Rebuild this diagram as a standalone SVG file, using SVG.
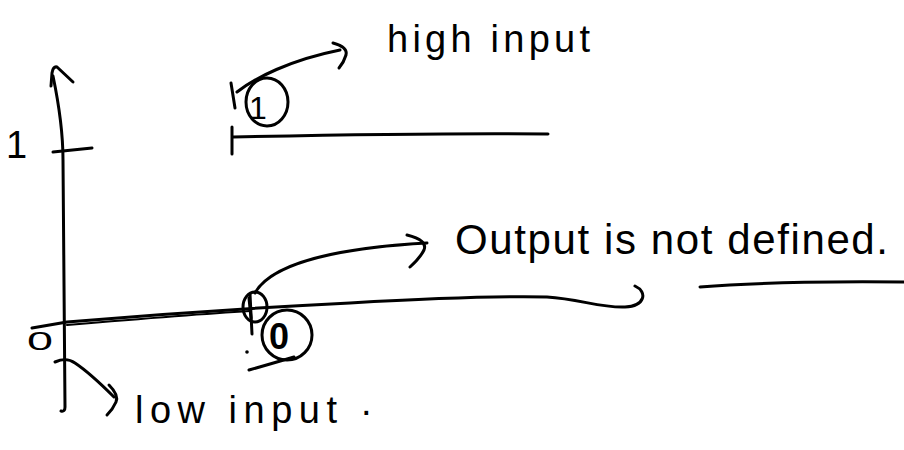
<svg xmlns="http://www.w3.org/2000/svg" width="904" height="450" viewBox="0 0 904 450">
<style>
.ink{fill:none;stroke:#000;stroke-width:3;stroke-linecap:round;stroke-linejoin:round}
.thin{fill:none;stroke:#000;stroke-width:2.2;stroke-linecap:round;stroke-linejoin:round}
.hand{font-family:"Liberation Sans","DejaVu Sans",sans-serif;fill:#000}
</style>
<rect width="904" height="450" fill="#fff"/>
<g id="y-axis">
<path class="ink" d="M51,86 L52,73 Q53,66 57,67 L73,82"/>
<path class="ink" d="M53,76 C58,100 63,130 63,160 L65,407 Q65,412 61,411"/>
<path class="ink" d="M53,152 L92,148"/>
<text class="hand" x="6" y="158" font-size="38">1</text>
</g>
<g id="level-high">
<path class="ink" d="M231,83 L235,108"/>
<path class="ink" d="M232,127 L232,154"/>
<path class="ink" d="M233,137 C330,135 450,133 548,134"/>
</g>
<g id="point-1">
<ellipse class="ink" cx="267" cy="102" rx="21" ry="24"/>
<text class="hand" x="258" y="119" font-size="32" text-anchor="middle">1</text>
</g>
<g id="level-low">
<path class="ink" d="M32,328 L67,322 C150,315 250,308 350,303 C420,299 500,296 547,297 C580,299 600,308 625,307 C645,306 648,292 635,286"/>
<path class="thin" d="M67,325 C150,318 200,314 250,311"/>
<text class="hand" x="27" y="350" font-size="26" textLength="26" lengthAdjust="spacingAndGlyphs">0</text>
</g>
<g id="point-undefined">
<ellipse class="ink" cx="255" cy="307" rx="12" ry="15"/>
<path class="ink" d="M250,294 L252,334" stroke-width="4"/>
<path class="ink" d="M249,298 L251,318" stroke-width="6"/>
<circle cx="247" cy="352" r="1.8" fill="#000"/>
</g>
<g id="point-0">
<ellipse class="ink" cx="287" cy="335" rx="25" ry="25"/>
<text class="hand" x="279" y="349" font-size="36" font-weight="bold" text-anchor="middle">0</text>
<path class="ink" d="M249,370 L270,364 L294,357" stroke-width="3.5"/>
</g>
<g id="label-high-input">
<text class="hand" x="387" y="52" font-size="38" textLength="203" lengthAdjust="spacing">high input</text>
</g>
<g id="label-output">
<text class="hand" x="455" y="254" font-size="42" textLength="433" lengthAdjust="spacing">Output is not defined.</text>
<path class="ink" d="M700,287 C760,282 850,281 904,282"/>
</g>
<g id="label-low-input">
<text class="hand" x="135" y="423" font-size="38" textLength="202" lengthAdjust="spacing">low input</text>
<text class="hand" x="361" y="415" font-size="38">.</text>
</g>
<g id="connectors">
<path class="ink" d="M237,92 C255,78 290,60 340,50"/>
<path class="ink" d="M333,43 Q348,47 346,55 Q344,62 339,68"/>
<path class="ink" d="M255,293 C265,275 300,250 427,243"/>
<path class="ink" d="M407,235 Q428,240 424,250 Q420,258 410,267"/>
<path class="ink" d="M55,362 C62,359 68,358 75,363 C90,373 102,385 114,397"/>
<path class="ink" d="M109,385 Q119,395 116,402 Q113,409 107,415"/>
</g>
</svg>
